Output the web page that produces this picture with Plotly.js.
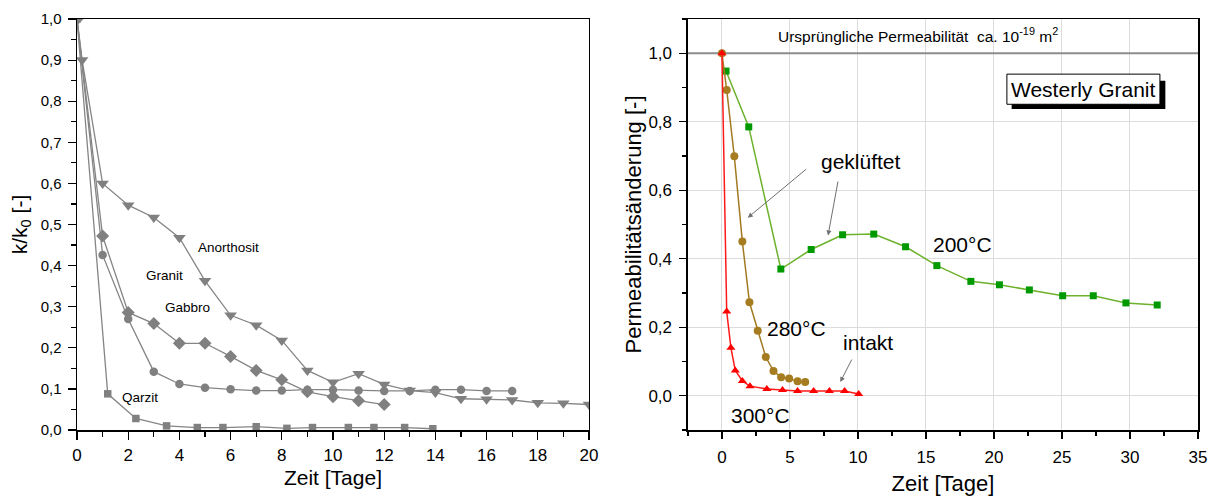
<!DOCTYPE html>
<html>
<head>
<meta charset="utf-8">
<script src="https://cdn.plot.ly/plotly-3.0.1.min.js"></script>
<style>html,body{margin:0;padding:0;background:#fff;}#chart{width:1215px;height:496px;}</style>
</head>
<body>
<div id="chart"></div>
<script>
// Left chart data
const anoX = [0, 0.2, 1, 2, 3, 4, 5, 6, 7, 8, 9, 10, 11, 12, 13, 14, 15, 16, 17, 18, 19, 20];
const anoY = [1.0, 0.9, 0.6, 0.547, 0.517, 0.468, 0.363, 0.279, 0.255, 0.218, 0.145, 0.116, 0.137, 0.111, 0.096, 0.091, 0.076, 0.075, 0.073, 0.066, 0.065, 0.062];
const graX = [0, 1, 2, 3, 4, 5, 6, 7, 8, 9, 10, 11, 12];
const graY = [1.0, 0.472, 0.286, 0.259, 0.211, 0.211, 0.179, 0.145, 0.122, 0.093, 0.081, 0.071, 0.062];
const gabX = [0, 1, 2, 3, 4, 5, 6, 7, 8, 9, 10, 11, 12, 13, 14, 15, 16, 17];
const gabY = [1.0, 0.426, 0.270, 0.142, 0.112, 0.103, 0.099, 0.096, 0.096, 0.098, 0.098, 0.096, 0.095, 0.095, 0.098, 0.098, 0.095, 0.095];
const qarX = [0, 1.2, 2.3, 3.5, 4.7, 5.7, 7.0, 8.2, 9.2, 10.6, 11.6, 12.8, 13.9];
const qarY = [1.0, 0.088, 0.028, 0.010, 0.006, 0.006, 0.008, 0.004, 0.006, 0.006, 0.006, 0.006, 0.003];

// Right chart data (Westerly Granit)
const t300 = [0, 0.35, 0.66, 0.98, 1.5, 2.06, 3.3, 4.45, 5.56, 6.74, 7.9, 9.02, 10.05];
const k300 = [1.0, 0.246, 0.14, 0.074, 0.043, 0.028, 0.02, 0.017, 0.014, 0.014, 0.014, 0.014, 0.005];
const t280 = [0, 0.35, 0.91, 1.5, 2.02, 2.63, 3.22, 3.79, 4.35, 4.94, 5.56, 6.12];
const k280 = [1.0, 0.893, 0.699, 0.45, 0.273, 0.19, 0.113, 0.072, 0.054, 0.05, 0.042, 0.04];
const t200 = [0.3, 1.97, 4.33, 6.56, 8.87, 11.16, 13.5, 15.8, 18.3, 20.4, 22.6, 25.05, 27.3, 29.7, 32.0];
const k200 = [0.948, 0.785, 0.37, 0.427, 0.47, 0.472, 0.435, 0.38, 0.334, 0.324, 0.309, 0.292, 0.292, 0.271, 0.265];

const gray = '#858585';
const mk = '#808080';
function leftTrace(x, y, sym, size) {
  return {x: x, y: y, xaxis: 'x', yaxis: 'y', type: 'scatter', mode: 'lines+markers',
    line: {color: gray, width: 1.3}, marker: {symbol: sym, size: size, color: mk}, showlegend: false};
}
const traces = [
  leftTrace(qarX, qarY, 'square', 7.5),
  leftTrace(gabX, gabY, 'circle', 8.5),
  leftTrace(graX, graY, 'diamond', 10),
  leftTrace(anoX, anoY, 'triangle-down', 11),
  {x: [-2.5, 35], y: [1.0, 1.0], xaxis: 'x2', yaxis: 'y2', type: 'scatter', mode: 'lines',
    line: {color: '#8c8c8c', width: 2}, showlegend: false, hoverinfo: 'skip'},
  {x: t200, y: k200, xaxis: 'x2', yaxis: 'y2', type: 'scatter', mode: 'lines+markers',
    line: {color: '#6cb22c', width: 1.5}, marker: {symbol: 'square', size: 7, color: '#009a00'}, showlegend: false},
  {x: t280, y: k280, xaxis: 'x2', yaxis: 'y2', type: 'scatter', mode: 'lines+markers',
    line: {color: '#a27a22', width: 1.5}, marker: {symbol: 'circle', size: 8, color: '#a57c1f'}, showlegend: false},
  {x: t300, y: k300, xaxis: 'x2', yaxis: 'y2', type: 'scatter', mode: 'lines+markers',
    line: {color: '#ff1a1a', width: 1.5}, marker: {symbol: 'triangle-up', size: 8, color: '#ff0000'}, showlegend: false}
];

const fontFam = 'Liberation Sans, Arial, sans-serif';
const axCommon = {
  showline: true, linecolor: '#000', linewidth: 1.5, mirror: true,
  ticks: 'outside', tickwidth: 1.2, tickcolor: '#000', zeroline: false
};

const layout = {
  width: 1215, height: 496,
  margin: {l: 77, r: 17, t: 19, b: 66},
  paper_bgcolor: '#fff', plot_bgcolor: '#fff',
  separators: ', ',
  font: {family: fontFam, color: '#000'},
  xaxis: Object.assign({}, axCommon, {
    domain: [0, 0.4567], range: [0, 20], dtick: 2, showgrid: false, ticklen: 8,
    tickfont: {family: fontFam, size: 17, color: '#000'}, ticklabelstandoff: 1,
    minor: {ticks: 'outside', ticklen: 5, dtick: 1, tickcolor: '#000', showgrid: false},
    title: {text: 'Zeit [Tage]', font: {size: 21}, standoff: 6}
  }),
  yaxis: Object.assign({}, axCommon, {
    domain: [0, 1], range: [0, 1], dtick: 0.1, tickformat: '.1f', showgrid: false, ticklen: 8,
    tickfont: {family: fontFam, size: 15, color: '#000'}, ticklabelstandoff: 3,
    minor: {ticks: 'outside', ticklen: 5, dtick: 0.05, tickcolor: '#000', showgrid: false},
    title: {text: 'k/k<sub>0</sub> [-]', font: {size: 21}, standoff: 7}
  }),
  xaxis2: Object.assign({}, axCommon, {
    anchor: 'y2', domain: [0.545, 1], range: [-2.5, 35], dtick: 5, tick0: 0, ticklen: 7,
    tickfont: {family: fontFam, size: 17, color: '#000'}, ticklabelstandoff: 4,
    showgrid: true, gridcolor: '#dcdcdc', gridwidth: 1,
    minor: {ticks: 'outside', ticklen: 4, dtick: 2.5, tick0: 0, tickcolor: '#000', showgrid: false},
    title: {text: 'Zeit [Tage]', font: {size: 22}, standoff: 11}
  }),
  yaxis2: Object.assign({}, axCommon, {
    anchor: 'x2', domain: [0, 1], range: [-0.1, 1.1], dtick: 0.2, tick0: 0, tickformat: '.1f', ticklen: 7,
    tickfont: {family: fontFam, size: 17, color: '#000'}, ticklabelstandoff: 4,
    showgrid: true, gridcolor: '#dcdcdc', gridwidth: 1,
    minor: {ticks: 'outside', ticklen: 4, dtick: 0.1, tick0: 0, tickcolor: '#000', showgrid: false},
    title: {text: 'Permeabilitätsänderung [-]', font: {size: 22}, standoff: 0}
  }),
  annotations: [
    {xref: 'x', yref: 'y', x: 5.9, y: 0.445, text: 'Anorthosit', showarrow: false, font: {size: 13.5}},
    {xref: 'x', yref: 'y', x: 3.4, y: 0.375, text: 'Granit', showarrow: false, font: {size: 13.5}},
    {xref: 'x', yref: 'y', x: 4.3, y: 0.297, text: 'Gabbro', showarrow: false, font: {size: 13.5}},
    {xref: 'x', yref: 'y', x: 2.45, y: 0.078, text: 'Qarzit', showarrow: false, font: {size: 13.5}},
    {xref: 'x2', yref: 'y2', x: 14.4, y: 1.052, text: 'Ursprüngliche Permeabilität  ca. 10<sup>-19</sup> m<sup>2</sup>', showarrow: false, font: {size: 15.5}},
    {xref: 'x2', yref: 'y2', x: 26.55, y: 0.895, text: 'Westerly Granit', showarrow: false, font: {size: 21}},
    {xref: 'x2', yref: 'y2', x: 10.2, y: 0.685, text: 'geklüftet', showarrow: false, font: {size: 21}},
    {xref: 'x2', yref: 'y2', x: 1.9, y: 0.52, ax: 6.3, ay: 0.665, axref: 'x2', ayref: 'y2', text: '', showarrow: true,
      arrowhead: 2, arrowsize: 1, arrowwidth: 1, arrowcolor: '#707070'},
    {xref: 'x2', yref: 'y2', x: 7.8, y: 0.468, ax: 8.55, ay: 0.63, axref: 'x2', ayref: 'y2', text: '', showarrow: true,
      arrowhead: 2, arrowsize: 1, arrowwidth: 1, arrowcolor: '#707070'},
    {xref: 'x2', yref: 'y2', x: 17.7, y: 0.443, text: '200°C', showarrow: false, font: {size: 21}},
    {xref: 'x2', yref: 'y2', x: 5.5, y: 0.197, text: '280°C', showarrow: false, font: {size: 21}},
    {xref: 'x2', yref: 'y2', x: 10.75, y: 0.155, text: 'intakt', showarrow: false, font: {size: 21}},
    {xref: 'x2', yref: 'y2', x: 8.7, y: 0.04, ax: 9.6, ay: 0.11, axref: 'x2', ayref: 'y2', text: '', showarrow: true,
      arrowhead: 2, arrowsize: 1, arrowwidth: 1, arrowcolor: '#707070'},
    {xref: 'x2', yref: 'y2', x: 2.85, y: -0.058, text: '300°C', showarrow: false, font: {size: 21}}
  ],
  shapes: [
    {type: 'rect', xref: 'x2', yref: 'y2', x0: 21.3, x1: 32.6, y0: 0.837, y1: 0.92,
      fillcolor: '#000', line: {width: 0}, layer: 'above'},
    {type: 'rect', xref: 'x2', yref: 'y2', x0: 20.95, x1: 32.2, y0: 0.851, y1: 0.939,
      fillcolor: '#fff', line: {width: 1, color: '#000'}, layer: 'above'}
  ]
};

Plotly.newPlot('chart', traces, layout, {displayModeBar: false, staticPlot: true});
</script>
</body>
</html>
